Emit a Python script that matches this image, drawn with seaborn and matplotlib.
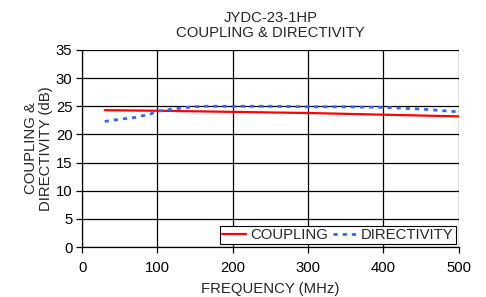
import matplotlib.pyplot as plt
import seaborn as sns
import pandas as pd
import numpy as np

# Values
freq_coupling = [30, 100, 200, 300, 400, 500]
coupling = [24.3, 24.2, 24.0, 23.8, 23.5, 23.2]

freq_directivity = [30, 50, 70, 90, 100, 120, 140, 160, 200, 250, 300, 350, 400, 450, 480, 500]
directivity = [22.3, 22.7, 23.0, 23.6, 24.1, 24.5, 24.8, 25.0, 25.0, 25.0, 24.9, 24.9, 24.8, 24.5, 24.2, 24.0]

x_ticks = [0, 100, 200, 300, 400, 500]
y_ticks = [0, 5, 10, 15, 20, 25, 30, 35]

df_c = pd.DataFrame({'freq': freq_coupling, 'val': coupling})
df_d = pd.DataFrame({'freq': freq_directivity, 'val': directivity})

sns.set_style('white')
plt.rcParams['font.family'] = ['Liberation Sans', 'DejaVu Sans']
fs = 10.7
plt.rcParams['font.size'] = fs

fig = plt.figure(figsize=(4.86, 2.97), dpi=100)
ax = fig.add_axes([0.169, 0.168, 0.775, 0.664])

sns.lineplot(data=df_c, x='freq', y='val', ax=ax, color='#ff0000', linewidth=1.6,
             label='COUPLING')
sns.lineplot(data=df_d, x='freq', y='val', ax=ax, color='#3366ff', linewidth=2.0,
             linestyle=(0, (1.5, 1.8)), label='DIRECTIVITY')

ax.set_xlim(0, 500)
ax.set_ylim(0, 35)
ax.set_xticks(x_ticks)
ax.set_yticks(y_ticks)
ax.grid(True, color='black', linewidth=0.9)
for s in ax.spines.values():
    s.set_visible(False)
for side in ['left', 'bottom']:
    ax.spines[side].set_visible(True)
    ax.spines[side].set_color('black')
    ax.spines[side].set_linewidth(0.9)
ax.tick_params(axis='both', which='both', direction='out', length=4, width=0.9,
               colors='black', labelsize=fs, left=True, bottom=True, pad=3)
ax.tick_params(axis='x', pad=6)

ax.set_title('JYDC-23-1HP\nCOUPLING & DIRECTIVITY', fontsize=fs, pad=9, linespacing=1.15)
ax.set_xlabel('FREQUENCY (MHz)', fontsize=fs, labelpad=5)
ax.set_ylabel('COUPLING &\nDIRECTIVITY (dB)', fontsize=fs, labelpad=2, linespacing=1.05)

leg = ax.legend(loc='lower right', ncol=2, frameon=True, fancybox=False,
                edgecolor='black', fontsize=fs, borderpad=0.15, handlelength=1.6,
                handletextpad=0.3, columnspacing=0.3, borderaxespad=0.2)
leg.get_frame().set_linewidth(0.8)
leg.get_frame().set_alpha(1)

fig.savefig('out.png', dpi=100)
